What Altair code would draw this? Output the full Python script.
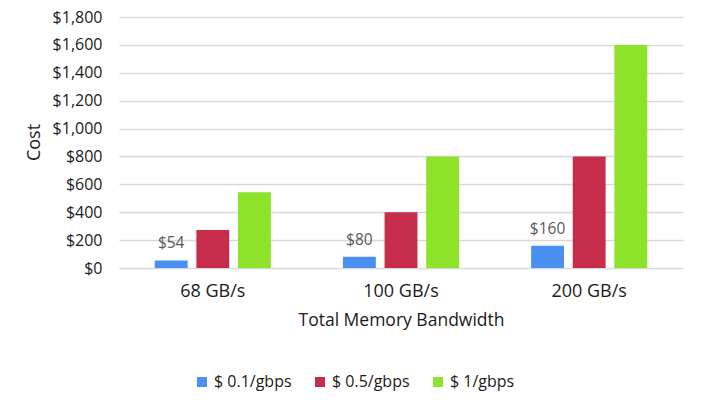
import altair as alt
import pandas as pd

categories = ["68 GB/s", "100 GB/s", "200 GB/s"]
series = ["$ 0.1/gbps", "$ 0.5/gbps", "$ 1/gbps"]
cost_01 = [54, 80, 160]
cost_05 = [272, 400, 800]
cost_1 = [544, 800, 1600]
colors = ["#4A90F2", "#C52D4B", "#8DE32A"]
y_ticks = [0, 200, 400, 600, 800, 1000, 1200, 1400, 1600, 1800]

rows = []
for s, vals in zip(series, [cost_01, cost_05, cost_1]):
    for c, v in zip(categories, vals):
        rows.append({"bandwidth": c, "series": s, "cost": v})
df = pd.DataFrame(rows)

FONT = "Open Sans"

x = alt.X(
    "bandwidth:N",
    sort=categories,
    scale=alt.Scale(paddingInner=0.383, paddingOuter=0.19),
    axis=alt.Axis(
        title="Total Memory Bandwidth",
        labelAngle=0,
        ticks=False,
        domain=False,
        labelPadding=14,
        labelFontSize=18,
        labelColor="#1a1a1a",
        titleFontSize=17.5,
        titleFontWeight="normal",
        titleColor="#1a1a1a",
        titleBaseline="alphabetic",
        titleY=57,
    ),
)
xoff = alt.XOffset(
    "series:N",
    sort=series,
    scale=alt.Scale(paddingInner=0.21, paddingOuter=0),
)
y = alt.Y(
    "cost:Q",
    scale=alt.Scale(domain=[0, 1800], nice=False),
    axis=alt.Axis(
        title="Cost",
        values=y_ticks,
        format="$,.0f",
        ticks=False,
        domain=False,
        labelOverlap=False,
        labelPadding=17,
        labelFontSize=16,
        labelColor="#1a1a1a",
        gridColor="#d9d9d9",
        gridWidth=1.3,
        titleFontSize=18,
        titleFontWeight="normal",
        titleColor="#1a1a1a",
        titleAngle=-90,
        titleBaseline="alphabetic",
        titleAlign="center",
        titleX=-80,
        titleY=125,
    ),
)
color = alt.Color(
    "series:N",
    sort=series,
    scale=alt.Scale(domain=series, range=colors),
    legend=alt.Legend(
        title=None,
        orient="none",
        direction="horizontal",
        legendX=75,
        legendY=357,
        symbolType="square",
        symbolSize=100,
        symbolStrokeWidth=0,
        labelFontSize=16,
        labelColor="#1a1a1a",
        labelOffset=4,
        columnPadding=20,
        padding=0,
    ),
)

base = alt.Chart(df).encode(x=x, xOffset=xoff, y=y)

bars = base.mark_bar().encode(color=color)

labels = (
    base.transform_filter(alt.datum.series == series[0])
    .mark_text(baseline="alphabetic", dy=-12, fontSize=15.5, color="#595959", font=FONT)
    .encode(text=alt.Text("cost:Q", format="$,.0f"))
)

chart = (
    alt.layer(bars, labels)
    .properties(
        width=564,
        height=251,
        autosize=alt.AutoSizeParams(type="none"),
        padding={"left": 111, "top": 9, "right": 11, "bottom": 128},
    )
    .configure(font=FONT)
    .configure_view(stroke=None)
)

chart.save("out.html", embed_options={"renderer": "svg", "actions": False})
